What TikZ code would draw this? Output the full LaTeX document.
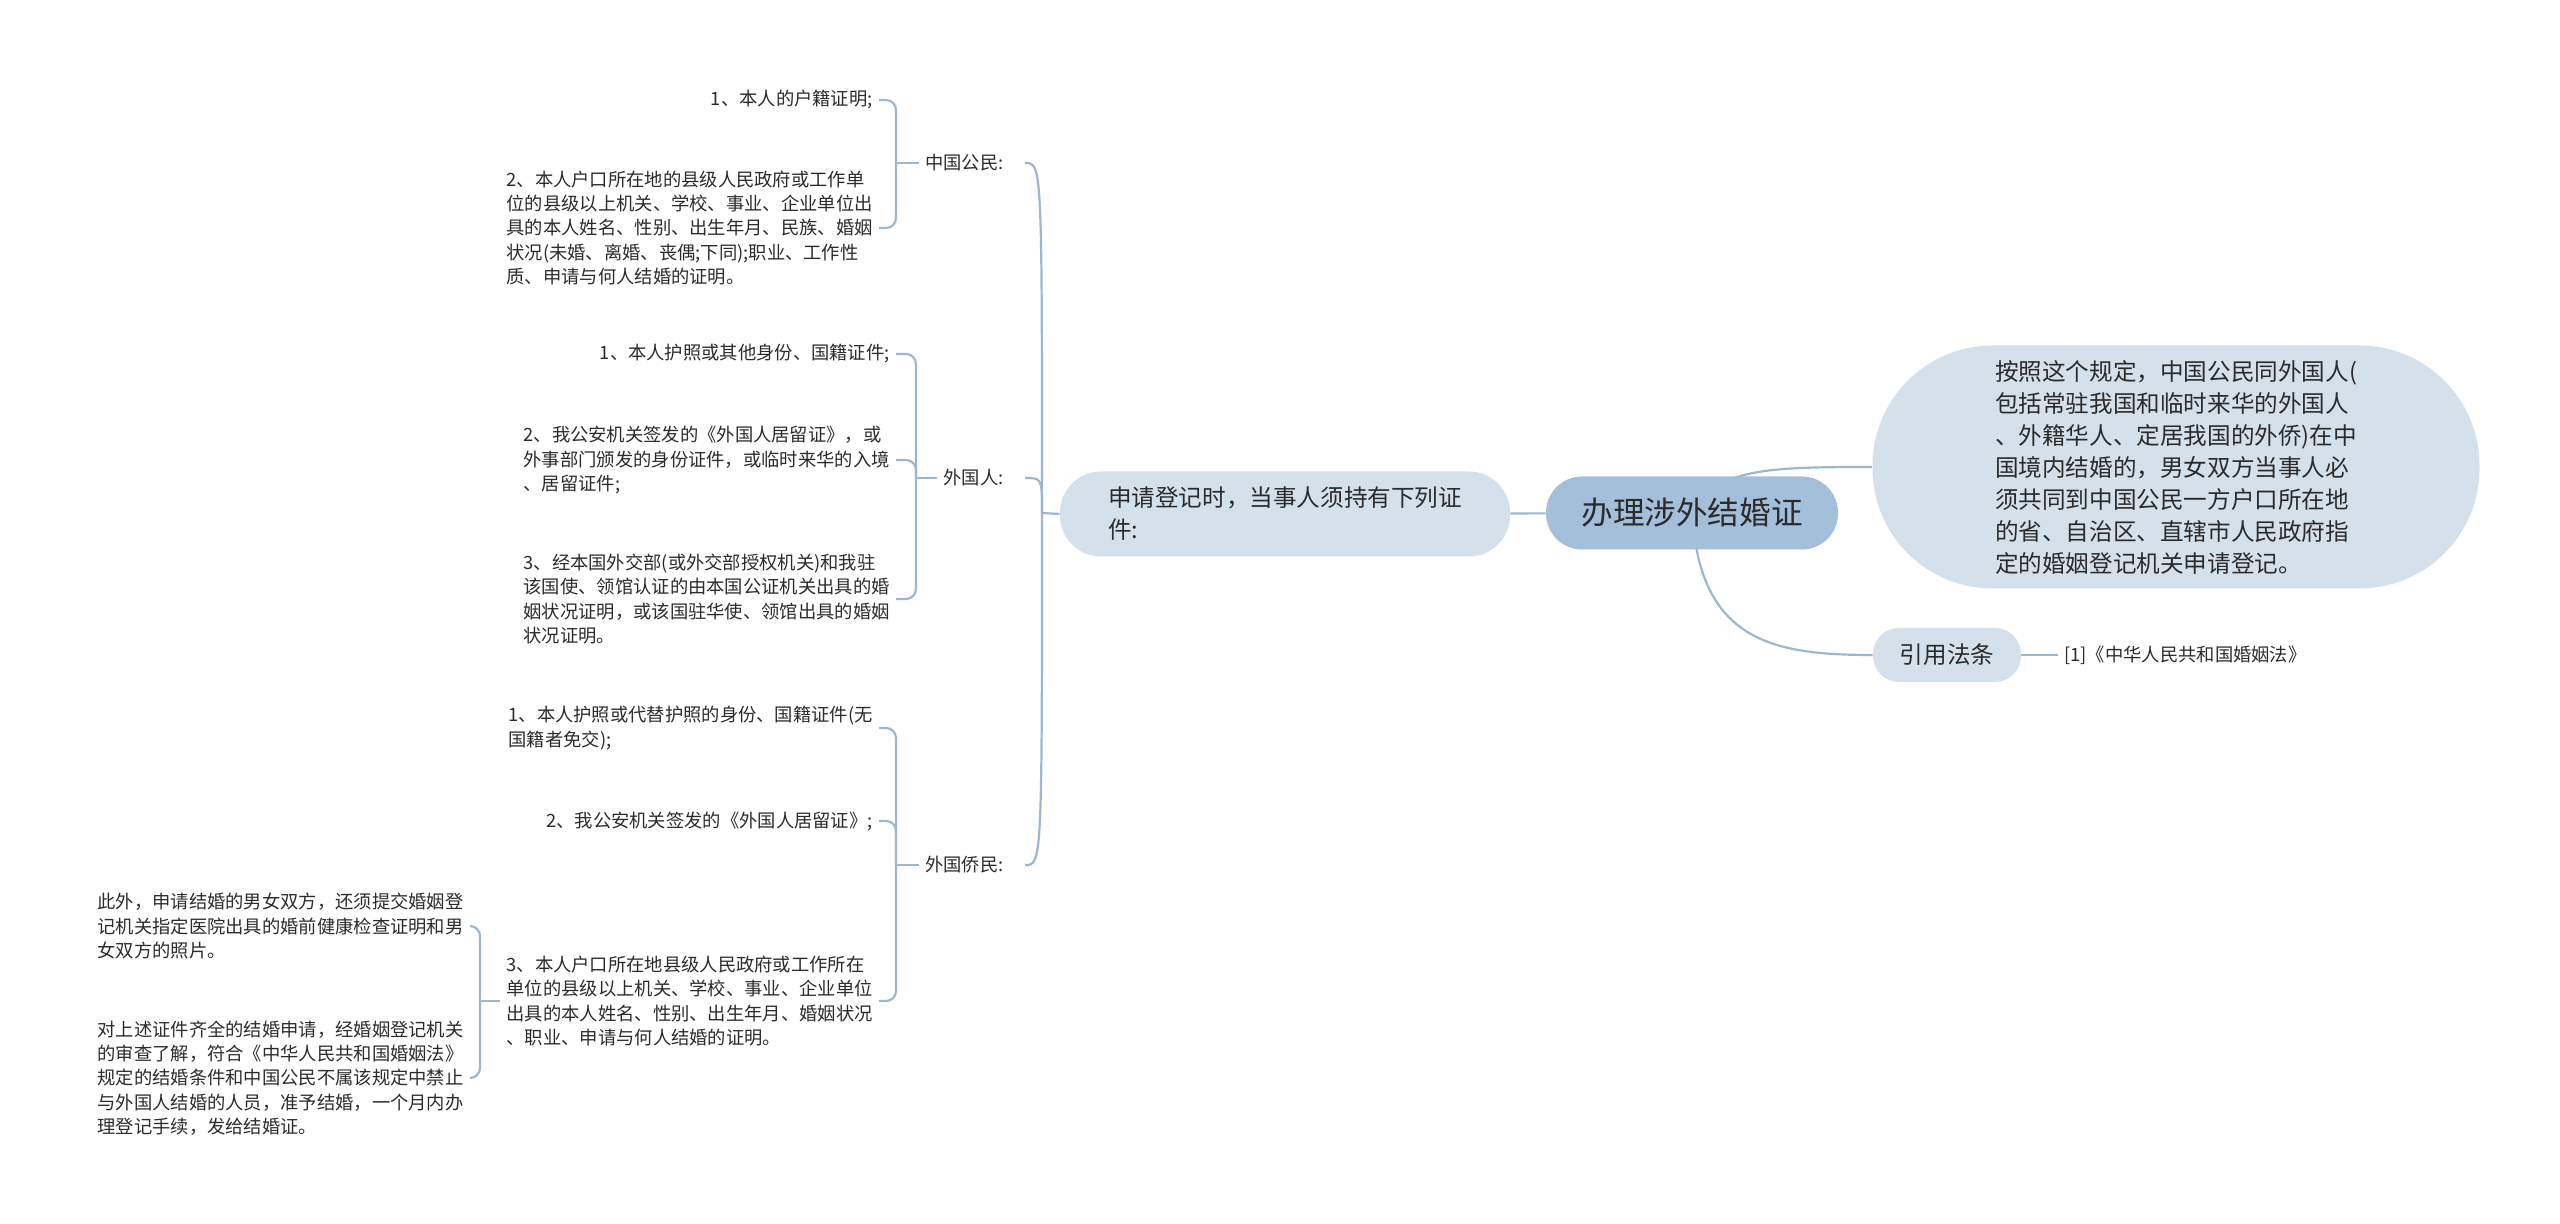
\documentclass[tikz,border=0pt]{standalone}
\usepackage{fontspec}
\setmainfont{Noto Sans CJK SC}
\usepackage{xcolor}
\usetikzlibrary{backgrounds}
\definecolor{linkblue}{HTML}{9DB7CF}
\definecolor{rootblue}{HTML}{A3BFDA}
\definecolor{paleblue}{HTML}{D5E1EA}
\definecolor{inkgray}{HTML}{2B2B2B}
\tikzset{
    map-link/.style = {draw=linkblue, line width=1.1pt},
    bracket-link/.style = {map-link, rounded corners=5pt},
    root-box/.style = {fill=rootblue, rounded corners=18pt, minimum width=146pt, minimum height=36.5pt, inner sep=0pt, font=\fontsize{15.8pt}{19pt}\selectfont},
    topic-box/.style = {fill=paleblue, inner sep=0pt, align=left, font=\fontsize{11.8pt}{16pt}\selectfont},
    leaf-text/.style = {align=left, inner sep=3pt, font=\fontsize{9.15pt}{12.1pt}\selectfont},
}

\begin{document}
\begin{tikzpicture}[x=0.5pt, y=-0.5pt, every node/.style={text=inkgray}]
\useasboundingbox (0,0) rectangle (2560,1224);

% centre and right side
\node [root-box] (root) at (1692,513) {办理涉外结婚证};
\node [topic-box, rounded corners=20.5pt, minimum width=225pt, minimum height=42.5pt] (apply) at (1285,514) {申请登记时，当事人须持有下列证\\件:};
\node [topic-box, rounded corners=60pt, minimum width=303.5pt, minimum height=121.5pt] (rule) at (2176,467) {按照这个规定，中国公民同外国人(\\包括常驻我国和临时来华的外国人\\、外籍华人、定居我国的外侨)在中\\国境内结婚的，男女双方当事人必\\须共同到中国公民一方户口所在地\\的省、自治区、直辖市人民政府指\\定的婚姻登记机关申请登记。};
\node [topic-box, rounded corners=13pt, minimum width=74pt, minimum height=27pt] (cite) at (1947,655) {引用法条};
\node [leaf-text, anchor=west] (law) at (2058,655) {[1]《中华人民共和国婚姻法》};

% groups
\node [leaf-text, anchor=east] (zg) at (1010,163) {中国公民:};
\node [leaf-text, anchor=east] (wg) at (1010,478) {外国人:};
\node [leaf-text, anchor=east] (wq) at (1010,865) {外国侨民:};

% Chinese citizen
\node [leaf-text, anchor=east] (zg1) at (879,100) {1、本人的户籍证明;};
\node [leaf-text, anchor=east] (zg2) at (879,228) {2、本人户口所在地的县级人民政府或工作单\\位的县级以上机关、学校、事业、企业单位出\\具的本人姓名、性别、出生年月、民族、婚姻\\状况(未婚、离婚、丧偶;下同);职业、工作性\\质、申请与何人结婚的证明。};

% foreigner
\node [leaf-text, anchor=east] (wg1) at (896,354) {1、本人护照或其他身份、国籍证件;};
\node [leaf-text, anchor=east] (wg2) at (896,460) {2、我公安机关签发的《外国人居留证》，或\\外事部门颁发的身份证件，或临时来华的入境\\、居留证件;};
\node [leaf-text, anchor=east] (wg3) at (896,599) {3、经本国外交部(或外交部授权机关)和我驻\\该国使、领馆认证的由本国公证机关出具的婚\\姻状况证明，或该国驻华使、领馆出具的婚姻\\状况证明。};

% overseas resident
\node [leaf-text, anchor=east] (wq1) at (879,728) {1、本人护照或代替护照的身份、国籍证件(无\\国籍者免交);};
\node [leaf-text, anchor=east] (wq2) at (879,821) {2、我公安机关签发的《外国人居留证》;};
\node [leaf-text, anchor=east] (wq3) at (879,1001) {3、本人户口所在地县级人民政府或工作所在\\单位的县级以上机关、学校、事业、企业单位\\出具的本人姓名、性别、出生年月、婚姻状况\\、职业、申请与何人结婚的证明。};
\node [leaf-text, anchor=east] (wq3a) at (470,926) {此外，申请结婚的男女双方，还须提交婚姻登\\记机关指定医院出具的婚前健康检查证明和男\\女双方的照片。};
\node [leaf-text, anchor=east] (wq3b) at (470,1078) {对上述证件齐全的结婚申请，经婚姻登记机关\\的审查了解，符合《中华人民共和国婚姻法》\\规定的结婚条件和中国公民不属该规定中禁止\\与外国人结婚的人员，准予结婚，一个月内办\\理登记手续，发给结婚证。};

\coordinate (apply-spine) at (1042,513);
\coordinate (zg-spine) at (896,0);
\coordinate (wg-spine) at (916,0);
\coordinate (wq-spine) at (896,0);
\coordinate (wq3-spine) at (480,0);

% connectors
\begin{scope}[on background layer]
\draw [map-link] (root.center) .. controls (1715,468) and (1770,467) .. (rule.west);
\draw [map-link] (root.center) .. controls (1700,640) and (1770,655) .. (cite.west);
\end{scope}
\draw [map-link] (root) -- (apply);
\draw [map-link] (cite) -- (law);

\draw [map-link] (apply.west) -- (apply-spine);
\foreach \grp in {zg,wg,wq}
    \draw [map-link] (apply-spine) .. controls (\grp.east -| apply-spine) and (\grp.east -| apply-spine) .. ([xshift=7.5pt]\grp.east);

\draw [map-link] (zg.west) -- (zg.west -| zg-spine);
\draw [bracket-link] (zg1.east) -| (zg.west -| zg-spine) |- (zg2.east);

\draw [map-link] (wg.west) -- (wg.west -| wg-spine);
\draw [bracket-link] (wg1.east) -| (wg.west -| wg-spine) |- (wg3.east);
\draw [bracket-link] (wg2.east) -| (wg.west -| wg-spine);

\draw [map-link] (wq.west) -- (wq.west -| wq-spine);
\draw [bracket-link] (wq1.east) -| (wq.west -| wq-spine) |- (wq3.east);
\draw [bracket-link] (wq2.east) -| (wq.west -| wq-spine);

\draw [map-link] (wq3.west) -- (wq3.west -| wq3-spine);
\draw [bracket-link] (wq3a.east) -| (wq3.west -| wq3-spine) |- (wq3b.east);
\end{tikzpicture}
\end{document}
